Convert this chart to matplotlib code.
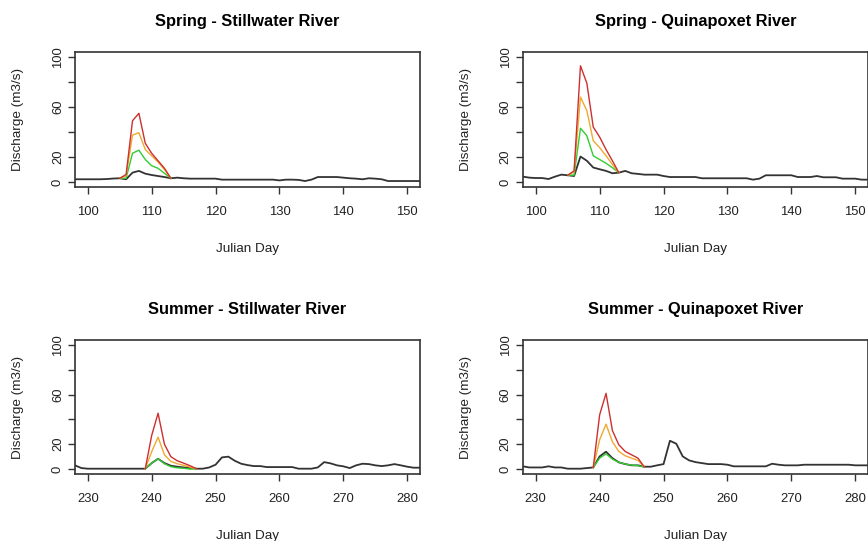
"""Discharge hydrographs for observed flow and three storm scenarios."""

import matplotlib as mpl
from matplotlib import pyplot as plt

mpl.use("Agg")
plt.rcParams["font.family"] = ["Liberation Sans", "DejaVu Sans"]

# Julian days of the observed series
spring_days = list(range(98, 153))
summer_days = list(range(228, 283))

# Days covered by the scenario runs
spring_event_days = list(range(105, 114))
summer_event_days = list(range(239, 248))

# Observed discharge (m3/s)
spring_stillwater_obs = [
    2.2, 2.2, 2.2, 2.2, 2.2, 2.4, 2.8, 3.0, 2.2, 7.5,
    8.9, 6.7, 5.6, 4.8, 4.0, 3.0, 3.5, 3.0, 2.7, 2.7,
    2.7, 2.7, 2.7, 1.9, 1.9, 1.9, 1.9, 1.9, 1.9, 1.9,
    1.9, 1.9, 1.3, 1.9, 1.9, 1.7, 0.8, 1.9, 4.0, 4.0,
    4.0, 4.0, 3.5, 3.0, 2.7, 2.2, 3.0, 2.7, 2.2, 0.8,
    0.8, 0.8, 0.8, 0.8, 0.8,
]
spring_quinapoxet_obs = [
    4.3, 3.5, 3.2, 3.2, 2.4, 4.3, 5.9, 5.4, 4.8, 20.4,
    17.0, 11.6, 10.2, 8.9, 7.0, 7.5, 8.9, 7.0, 6.5, 5.9,
    5.9, 5.9, 4.8, 4.0, 4.0, 4.0, 4.0, 4.0, 3.0, 3.0,
    3.0, 3.0, 3.0, 3.0, 3.0, 3.0, 1.9, 2.7, 5.4, 5.4,
    5.4, 5.4, 5.4, 4.0, 4.0, 4.0, 4.8, 3.8, 3.8, 3.8,
    2.7, 2.7, 2.7, 1.9, 1.9,
]
summer_stillwater_obs = [
    3.0, 0.8, 0.3, 0.3, 0.3, 0.3, 0.3, 0.3, 0.3, 0.3,
    0.3, 0.3, 4.8, 8.3, 4.8, 2.7, 1.9, 1.3, 0.8, 0.3,
    0.3, 1.3, 3.5, 9.4, 10.0, 6.7, 4.3, 3.2, 2.4, 2.4,
    1.6, 1.6, 1.6, 1.6, 1.6, 0.3, 0.3, 0.3, 1.3, 5.6,
    4.6, 3.0, 2.2, 0.8, 3.0, 4.3, 4.0, 3.0, 2.4, 3.0,
    4.0, 3.0, 1.9, 1.1, 1.1,
]
summer_quinapoxet_obs = [
    2.2, 1.3, 1.3, 1.3, 2.2, 1.3, 1.3, 0.3, 0.3, 0.3,
    0.8, 1.3, 10.2, 14.0, 8.8, 5.4, 4.0, 3.0, 3.0, 1.9,
    1.9, 3.0, 4.0, 22.8, 20.4, 10.2, 7.0, 5.6, 4.8, 4.0,
    4.0, 4.0, 3.5, 2.2, 2.2, 2.2, 2.2, 2.2, 2.2, 4.3,
    3.5, 3.0, 3.0, 3.0, 3.5, 3.5, 3.5, 3.5, 3.5, 3.5,
    3.5, 3.5, 3.0, 3.0, 3.0,
]

# Scenario discharge (m3/s): high, medium, low
spring_stillwater_high = [3.0, 6.0, 49.0, 55.0, 31.0, 23.0, 17.0, 11.0, 3.0]
spring_stillwater_med = [3.0, 5.0, 37.5, 39.5, 26.0, 21.0, 16.0, 10.0, 3.0]
spring_stillwater_low = [3.0, 3.0, 23.0, 25.5, 18.0, 13.0, 11.0, 7.0, 3.0]

spring_quinapoxet_high = [5.4, 9.0, 93.0, 79.0, 44.0, 36.0, 26.0, 17.0, 7.5]
spring_quinapoxet_med = [5.4, 8.0, 68.0, 57.0, 33.0, 27.5, 21.0, 14.0, 7.5]
spring_quinapoxet_low = [5.4, 5.5, 43.0, 37.0, 21.0, 18.0, 15.0, 11.5, 7.5]

summer_stillwater_high = [0.3, 27.0, 45.0, 20.0, 10.0, 6.7, 4.8, 2.7, 0.3]
summer_stillwater_med = [0.3, 14.0, 25.7, 11.5, 6.2, 4.3, 3.0, 1.6, 0.3]
summer_stillwater_low = [0.3, 4.8, 8.3, 4.3, 1.9, 1.0, 0.6, 0.0, 0.3]

summer_quinapoxet_high = [1.3, 43.7, 61.0, 31.0, 19.6, 14.2, 11.5, 8.8, 1.6]
summer_quinapoxet_med = [1.3, 23.6, 36.2, 22.0, 14.2, 10.7, 8.8, 7.0, 1.6]
summer_quinapoxet_low = [1.3, 8.8, 12.3, 8.0, 5.4, 4.0, 3.2, 2.7, 1.6]

y_ticks = [0, 20, 40, 60, 80, 100]
y_tick_labels = ["0", "20", "", "60", "", "100"]
spring_ticks = [100, 110, 120, 130, 140, 150]
summer_ticks = [230, 240, 250, 260, 270, 280]

FRAME = "#333333"
TEXT = "#222222"


def draw_panel(ax, title, days, obs, event_days, high, med, low, xticks):
    ax.plot(days, obs, color="#333333", lw=1.3)
    ax.plot(event_days, low, color="#33cc33", lw=1.0)
    ax.plot(event_days, med, color="#f0a830", lw=1.0)
    ax.plot(event_days, high, color="#cc3030", lw=1.0)

    # R-style 4% padding around the nominal range
    ax.set_xlim(xticks[0] - 2, xticks[-1] + 2)
    ax.set_ylim(-4, 104)
    ax.set_xticks(xticks)
    ax.set_yticks(y_ticks, y_tick_labels)

    ax.tick_params(axis="both", length=5, width=1, color=FRAME,
                   labelsize=9.4, labelcolor=TEXT)
    ax.tick_params(axis="x", pad=9)
    ax.tick_params(axis="y", pad=3, labelrotation=90)
    for label in ax.get_yticklabels():
        label.set_verticalalignment("center")
    for spine in ax.spines.values():
        spine.set_color(FRAME)
        spine.set_linewidth(1.2)

    ax.set_xlabel("Julian Day", fontsize=9.7, color=TEXT, va="center")
    ax.xaxis.set_label_coords(0.5, -0.46)
    ax.set_ylabel("Discharge (m3/s)", fontsize=9.7, color=TEXT, va="center")
    ax.yaxis.set_label_coords(-0.165, 0.5)
    ax.text(0.5, 1.225, title, transform=ax.transAxes, ha="center",
            va="center", fontsize=11.8, fontweight="bold")


fig = plt.figure(figsize=(8.68, 5.41), dpi=100)

# the right-hand column runs slightly past the figure edge
ax_sp_sw = fig.add_axes([0.0864, 0.6543, 0.3975, 0.2495])
ax_sp_qp = fig.add_axes([0.6025, 0.6543, 0.3975, 0.2495])
ax_su_sw = fig.add_axes([0.0864, 0.1238, 0.3975, 0.2477])
ax_su_qp = fig.add_axes([0.6025, 0.1238, 0.3975, 0.2477])

draw_panel(ax_sp_sw, "Spring - Stillwater River", spring_days,
           spring_stillwater_obs, spring_event_days, spring_stillwater_high,
           spring_stillwater_med, spring_stillwater_low, spring_ticks)
draw_panel(ax_sp_qp, "Spring - Quinapoxet River", spring_days,
           spring_quinapoxet_obs, spring_event_days, spring_quinapoxet_high,
           spring_quinapoxet_med, spring_quinapoxet_low, spring_ticks)
draw_panel(ax_su_sw, "Summer - Stillwater River", summer_days,
           summer_stillwater_obs, summer_event_days, summer_stillwater_high,
           summer_stillwater_med, summer_stillwater_low, summer_ticks)
draw_panel(ax_su_qp, "Summer - Quinapoxet River", summer_days,
           summer_quinapoxet_obs, summer_event_days, summer_quinapoxet_high,
           summer_quinapoxet_med, summer_quinapoxet_low, summer_ticks)

fig.savefig("out.png", dpi=100)
plt.close(fig)
